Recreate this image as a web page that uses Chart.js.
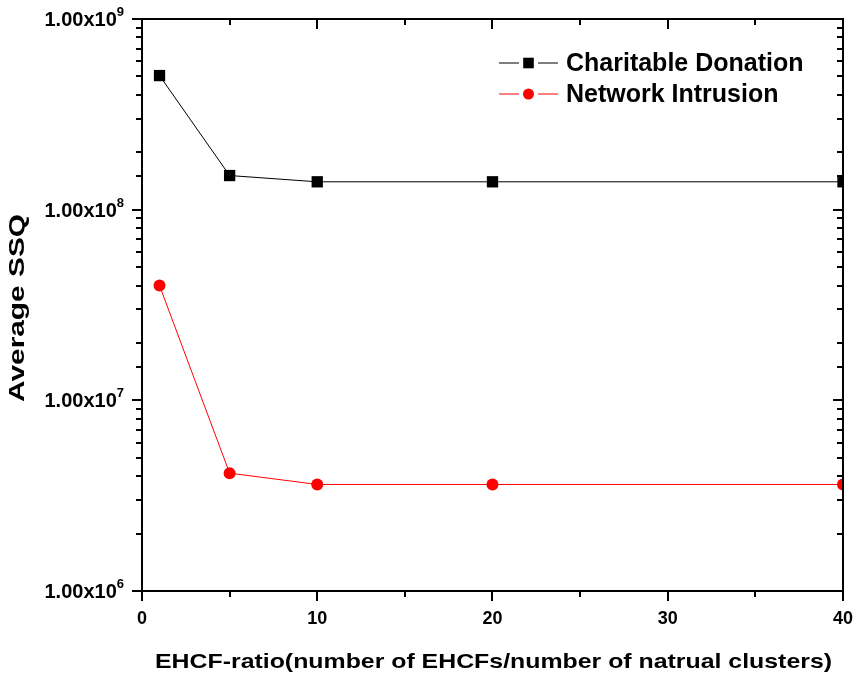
<!DOCTYPE html>
<html>
<head>
<meta charset="utf-8">
<script src="https://cdn.jsdelivr.net/npm/chart.js@4"></script>
<style>
  html, body { margin: 0; padding: 0; background: #fff; }
  #wrap { width: 860px; height: 678px; }
</style>
</head>
<body>
<div id="wrap"><canvas id="chart"></canvas></div>
<script>
const ratios = [1, 5, 10, 20, 40];
const charitableSSQ = [5.05e8, 1.51e8, 1.40e8, 1.40e8, 1.40e8];
const networkSSQ = [4.0e7, 4.15e6, 3.62e6, 3.62e6, 3.62e6];
const seriesNames = ['Charitable Donation', 'Network Intrusion'];
const xTitle = 'EHCF-ratio(number of EHCFs/number of natrual clusters)';
const yTitle = 'Average SSQ';

const FONT = "'Liberation Sans', Arial, sans-serif";

function isDecade(v) {
    const l = Math.log10(v);
    return Math.abs(l - Math.round(l)) < 1e-9;
}

// the titles in the original are a bit wider than the plain font
function drawStretched(ctx, text, cx, cy, size, width, angle) {
    ctx.save();
    ctx.translate(cx, cy);
    ctx.rotate(angle);
    ctx.font = 'bold ' + size + 'px ' + FONT;
    const w = ctx.measureText(text).width;
    ctx.scale(width / w, 1);
    ctx.fillStyle = '#000';
    ctx.textAlign = 'center';
    ctx.textBaseline = 'alphabetic';
    ctx.fillText(text, 0, 0);
    ctx.restore();
}

// box with ticks on all four sides (outer on left/bottom, inner on top/right)
const framePlugin = {
    id: 'frame',
    afterDatasetsDraw(chart) {
        const { ctx, chartArea: a, scales: { x, y } } = chart;
        ctx.save();
        ctx.strokeStyle = '#000';
        ctx.lineWidth = 2;
        ctx.strokeRect(a.left, a.top, a.right - a.left, a.bottom - a.top);
        ctx.beginPath();
        y.ticks.forEach(t => {
            const py = Math.round(y.getPixelForValue(t.value));
            const len = isDecade(t.value) ? 10 : 6;
            ctx.moveTo(a.left - len, py); ctx.lineTo(a.left, py);
            ctx.moveTo(a.right, py); ctx.lineTo(a.right - len, py);
        });
        for (let v = x.min; v <= x.max; v += 5) {
            const px = Math.round(x.getPixelForValue(v));
            const len = v % 10 === 0 ? 10 : 6;
            ctx.moveTo(px, a.bottom); ctx.lineTo(px, a.bottom + len);
            ctx.moveTo(px, a.top); ctx.lineTo(px, a.top + len);
        }
        ctx.stroke();
        ctx.restore();
    },
    afterDraw(chart) {
        const { ctx, chartArea: a, scales: { y } } = chart;
        // y labels as 1.00x10^n with a raised exponent
        ctx.save();
        ctx.fillStyle = '#000';
        y.ticks.filter(t => isDecade(t.value)).forEach(t => {
            const py = y.getPixelForValue(t.value);
            const exp = String(Math.round(Math.log10(t.value)));
            ctx.font = 'bold 13px ' + FONT;
            const ew = ctx.measureText(exp).width;
            const right = a.left - 18;
            ctx.textAlign = 'left';
            ctx.textBaseline = 'alphabetic';
            ctx.fillText(exp, right - ew, py - 3);
            ctx.font = 'bold 20px ' + FONT;
            ctx.textAlign = 'right';
            ctx.fillText('1.00x10', right - ew, py + 7);
        });
        ctx.restore();
        drawStretched(ctx, xTitle, 493.5, 668, 21, 677, 0);
        drawStretched(ctx, yTitle, 24, 308, 22, 188, -Math.PI / 2);
    }
};

// legend sits inside the plot, top right
const insideLegend = {
    id: 'insideLegend',
    afterDraw(chart) {
        const { ctx, chartArea: a } = chart;
        const x0 = a.right - 344;
        ctx.save();
        chart.data.datasets.forEach((ds, i) => {
            const yy = a.top + 44 + i * 31;
            ctx.strokeStyle = ds.borderColor;
            ctx.lineWidth = 1;
            ctx.beginPath();
            ctx.moveTo(x0, yy); ctx.lineTo(x0 + 20, yy);
            ctx.moveTo(x0 + 39, yy); ctx.lineTo(x0 + 59, yy);
            ctx.stroke();
            ctx.fillStyle = ds.backgroundColor;
            Chart.helpers.drawPoint(ctx, { pointStyle: ds.pointStyle, radius: ds.pointRadius - 0.5, borderWidth: 0 }, x0 + 29.5, yy);
            ctx.fillStyle = '#000';
            ctx.font = 'bold 25px ' + FONT;
            ctx.textBaseline = 'middle';
            ctx.fillText(ds.label, x0 + 67, yy + 1);
        });
        ctx.restore();
    }
};

new Chart(document.querySelector('#chart').getContext('2d'), {
    type: 'line',
    data: {
        datasets: [
            {
                label: seriesNames[0],
                data: ratios.map((r, i) => ({ x: r, y: charitableSSQ[i] })),
                borderColor: '#000',
                backgroundColor: '#000',
                borderWidth: 1,
                pointStyle: 'rect',
                pointRadius: 8,
                pointBorderWidth: 0,
            },
            {
                label: seriesNames[1],
                data: ratios.map((r, i) => ({ x: r, y: networkSSQ[i] })),
                borderColor: '#ff0000',
                backgroundColor: '#ff0000',
                borderWidth: 1,
                pointStyle: 'circle',
                pointRadius: 6,
                pointBorderWidth: 0,
            }
        ]
    },
    options: {
        responsive: true,
        maintainAspectRatio: false,
        animation: false,
        layout: { padding: { top: 19, right: 15, left: 0, bottom: 0 } },
        plugins: { legend: { display: false }, tooltip: { enabled: false } },
        scales: {
            x: {
                type: 'linear',
                min: 0,
                max: 40,
                grid: { drawOnChartArea: false, drawTicks: true, tickLength: 10, color: 'rgba(0,0,0,0)' },
                border: { display: false },
                ticks: {
                    stepSize: 10,
                    padding: 7,
                    color: '#000',
                    font: { family: FONT, size: 18, weight: 'bold' }
                },
                title: { display: false, text: xTitle },
                afterFit: s => { s.height = 87; }
            },
            y: {
                type: 'logarithmic',
                min: 1e6,
                max: 1e9,
                grid: { drawOnChartArea: false, drawTicks: true, tickLength: 10, color: 'rgba(0,0,0,0)' },
                border: { display: false },
                ticks: {
                    autoSkip: false,
                    callback: () => ''
                },
                title: { display: false, text: yTitle },
                afterFit: s => { s.width = 142; }
            }
        }
    },
    plugins: [framePlugin, insideLegend]
});
</script>
</body>
</html>
